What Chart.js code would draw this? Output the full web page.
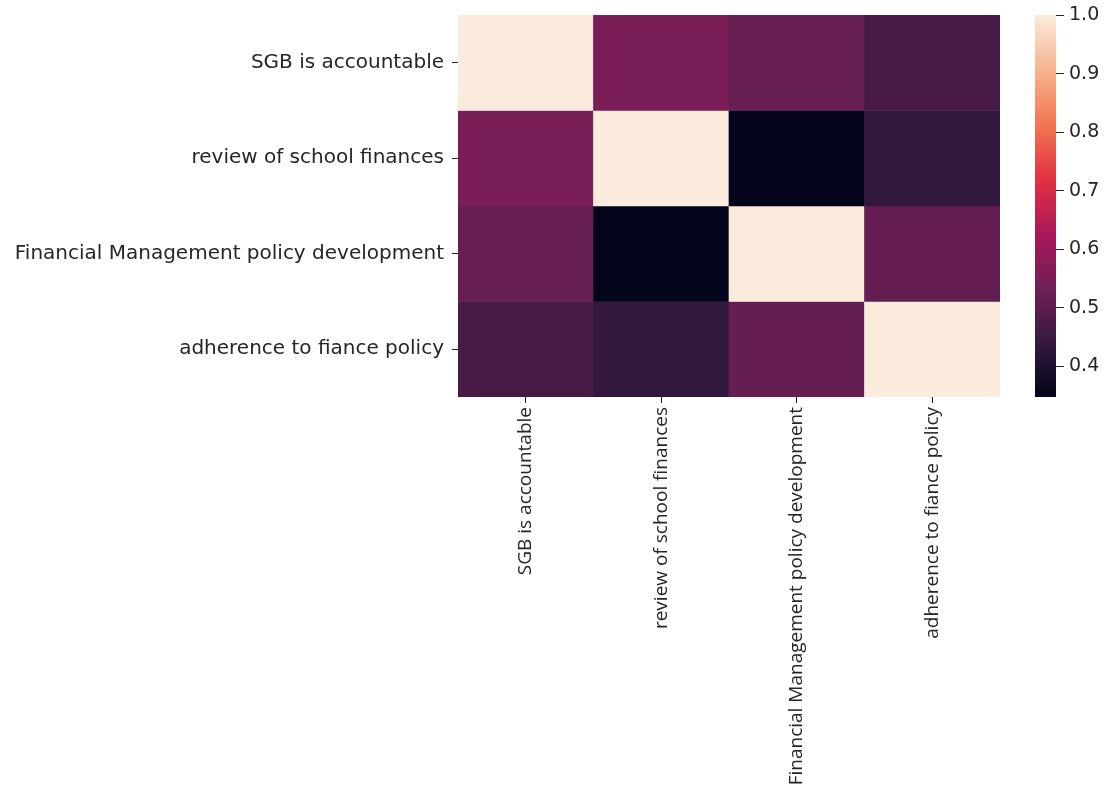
<!DOCTYPE html>
<html>
<head>
<meta charset="utf-8">
<script src="https://cdn.jsdelivr.net/npm/chart.js@4.4.1/dist/chart.umd.min.js"></script>
<style>
    body{ margin:0; background:#fff; }
    #wrap{ position:relative; width:1108px; height:788px; }
    #heatWrap{ position:absolute; left:0; top:0; width:1010px; height:788px; }
    #barWrap{ position:absolute; left:1020px; top:0; width:88px; height:420px; }
</style>
</head>
<body>
<div id="wrap">
    <div id="heatWrap"><canvas id="heatChart"></canvas></div>
    <div id="barWrap"><canvas id="colorBar"></canvas></div>
</div>

<script>

// ================= DATA =================

const variables = [
    "SGB is accountable",
    "review of school finances",
    "Financial Management policy development",
    "adherence to fiance policy"
];

// correlation matrix, one row per variable
const rowSGB       = [1.00, 0.55, 0.52, 0.47];
const rowReview    = [0.55, 1.00, 0.348, 0.435];
const rowFinPolicy = [0.52, 0.348, 1.00, 0.517];
const rowAdherence = [0.47, 0.435, 0.517, 1.00];

const corrRows = [rowSGB, rowReview, rowFinPolicy, rowAdherence];

const colorbarTicks = [0.4, 0.5, 0.6, 0.7, 0.8, 0.9, 1.0];


// ================= COLOUR MAP ("rocket") =================

const rocketStops = [
    [0/7, "#03051a"],
    [1/7, "#35193e"],
    [2/7, "#701f57"],
    [3/7, "#ad1759"],
    [4/7, "#e13342"],
    [5/7, "#f37651"],
    [6/7, "#f6b48f"],
    [7/7, "#faebdd"]
];

function hexToRgb(h){
    return [1, 3, 5].map(i => parseInt(h.substr(i, 2), 16));
}

function rocket(t){
    t = Math.max(0, Math.min(1, t));
    for(let i = 1; i < rocketStops.length; i++){
        const [p1, c1] = rocketStops[i];
        const [p0, c0] = rocketStops[i - 1];
        if(t <= p1){
            const f = (t - p0) / (p1 - p0);
            const a = hexToRgb(c0), b = hexToRgb(c1);
            const c = a.map((v, k) => Math.round(v + (b[k] - v) * f));
            return `rgb(${c[0]},${c[1]},${c[2]})`;
        }
    }
    return rocketStops[rocketStops.length - 1][1];
}

const allValues = corrRows.flat();
const vmin = Math.min(...allValues);
const vmax = Math.max(...allValues);

function colorFor(v){
    return rocket((v - vmin) / (vmax - vmin));
}

const textColor = "#262626";


// ================= HEATMAP =================

// every row is a dataset of floating bars spanning [row, row + 1]
const heatDatasets = corrRows.map((row, r) => ({
    data: row.map(() => [r, r + 1]),
    backgroundColor: row.map(v => colorFor(v)),
    borderWidth: 0,
    barPercentage: 1,
    categoryPercentage: 1,
    grouped: false
}));

new Chart(document.getElementById("heatChart"), {
    type: "bar",
    data: {
        labels: variables,
        datasets: heatDatasets
    },
    options: {
        responsive: true,
        maintainAspectRatio: false,
        animation: false,
        layout: { padding: { top: 15, right: 10 } },
        plugins: {
            legend: { display: false },
            tooltip: { enabled: false }
        },
        scales: {
            x: {
                border: { display: false },
                grid: {
                    drawOnChartArea: false,
                    offset: false,
                    tickLength: 6,
                    tickColor: textColor
                },
                ticks: {
                    color: textColor,
                    font: { family: "Open Sans", size: 19 },
                    minRotation: 90,
                    maxRotation: 90,
                    padding: 4,
                    autoSkip: false
                },
                afterFit: s => {
                    s.height = 788 - 397;
                    s.paddingLeft = 0;
                    s.paddingRight = 0;
                }
            },
            y: {
                type: "linear",
                reverse: true,
                min: 0,
                max: variables.length,
                border: { display: false },
                grid: {
                    drawOnChartArea: false,
                    tickLength: 6,
                    tickColor: textColor
                },
                afterBuildTicks: s => {
                    s.ticks = variables.map((_, i) => ({ value: i + 0.5 }));
                },
                ticks: {
                    color: textColor,
                    font: { family: "DejaVu Sans", size: 20 },
                    padding: 8,
                    callback: v => variables[Math.floor(v)]
                },
                afterFit: s => {
                    s.width = 458;
                    s.paddingTop = 0;
                    s.paddingBottom = 0;
                }
            }
        }
    }
});


// ================= COLOUR BAR =================

function rocketGradient(ctx){
    const area = ctx.chart.chartArea;
    if(!area) return rocket(0.5);
    const y = ctx.chart.scales.y;
    const g = ctx.chart.ctx.createLinearGradient(0, y.getPixelForValue(vmin), 0, y.getPixelForValue(vmax));
    rocketStops.forEach(([p, c]) => g.addColorStop(p, c));
    return g;
}

new Chart(document.getElementById("colorBar"), {
    type: "bar",
    data: {
        labels: [""],
        datasets: [{
            data: [[vmin, vmax]],
            backgroundColor: rocketGradient,
            borderWidth: 0,
            barPercentage: 1,
            categoryPercentage: 1
        }]
    },
    options: {
        responsive: true,
        maintainAspectRatio: false,
        animation: false,
        layout: { padding: { top: 15, left: 15, bottom: 23 } },
        plugins: {
            legend: { display: false },
            tooltip: { enabled: false }
        },
        scales: {
            x: { display: false },
            y: {
                position: "right",
                min: vmin,
                max: vmax,
                border: { display: false },
                grid: {
                    drawOnChartArea: false,
                    tickLength: 8,
                    tickColor: textColor
                },
                afterBuildTicks: s => {
                    s.ticks = colorbarTicks.map(v => ({ value: v }));
                },
                ticks: {
                    color: textColor,
                    font: { family: "DejaVu Sans", size: 19 },
                    padding: 5,
                    callback: v => v.toFixed(1)
                },
                afterFit: s => {
                    s.width = 52;
                    s.paddingTop = 0;
                    s.paddingBottom = 0;
                }
            }
        }
    }
});

</script>
</body>
</html>
